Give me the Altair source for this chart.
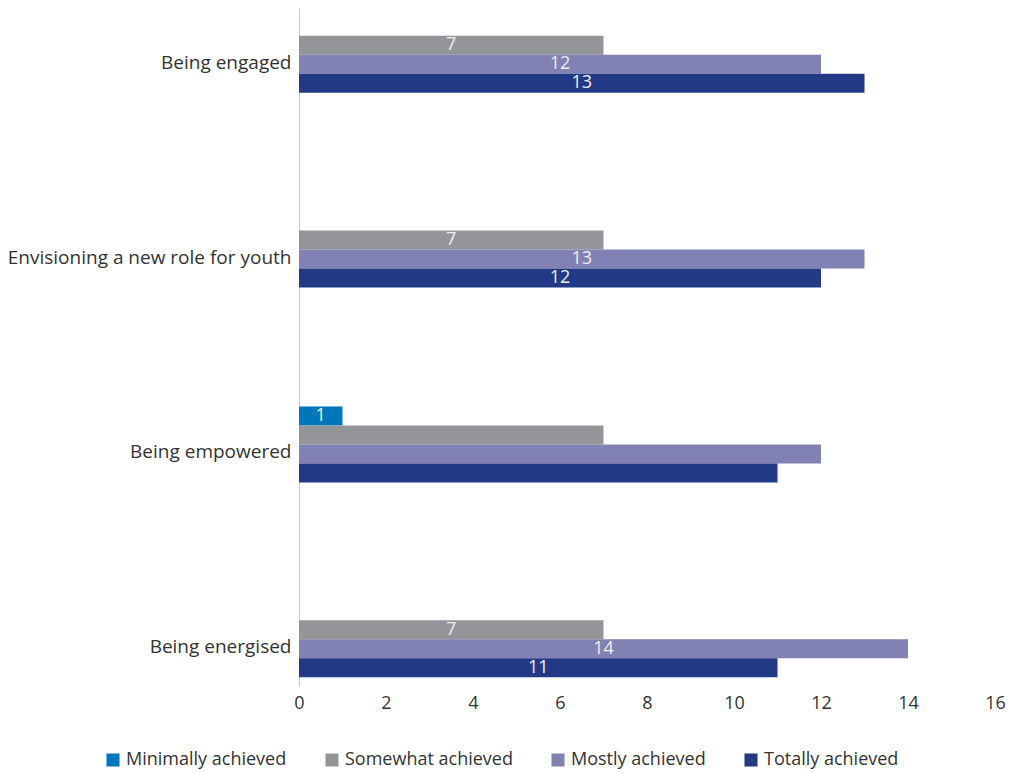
import altair as alt
import pandas as pd

categories = ["Being engaged", "Envisioning a new role for youth", "Being empowered", "Being energised"]
series = ["Minimally achieved", "Somewhat achieved", "Mostly achieved", "Totally achieved"]
colors = ["#0077bb", "#939598", "#8181b3", "#223a85"]

minimally = [0, 0, 1, 0]
somewhat = [7, 7, 7, 7]
mostly = [12, 13, 12, 14]
totally = [13, 12, 11, 11]

# labels shown on bars (None = no label in the original)
lab_minimally = [None, None, 1, None]
lab_somewhat = [7, 7, None, 7]
lab_mostly = [12, 13, None, 14]
lab_totally = [13, 12, None, 11]

rows = []
for s, vals, labs in zip(series,
                         [minimally, somewhat, mostly, totally],
                         [lab_minimally, lab_somewhat, lab_mostly, lab_totally]):
    for c, v, l in zip(categories, vals, labs):
        rows.append({"category": c, "series": s, "value": v,
                     "label": "" if l is None else str(l)})
df = pd.DataFrame(rows)

FONT = "Open Sans"

y = alt.Y("category:N", sort=categories, title=None,
          scale=alt.Scale(paddingInner=0.61, paddingOuter=0.045),
          axis=alt.Axis(domain=True, domainColor="#c8c8c8", ticks=False, grid=False,
                        labelFontSize=19, labelColor="#333333", labelFont=FONT,
                        labelPadding=8, labelOffset=8, labelLimit=400))
yoff = alt.YOffset("series:N", sort=series, scale=alt.Scale(domain=series, paddingInner=0, paddingOuter=0))

bars = alt.Chart(df).transform_filter("datum.value > 0").mark_bar().encode(
    x=alt.X("value:Q", title=None,
            scale=alt.Scale(domain=[0, 16]),
            axis=alt.Axis(values=list(range(0, 17, 2)), domain=False, ticks=False, grid=False,
                          labelFlush=False, labelOverlap=False,
                          labelFontSize=18, labelColor="#333333", labelFont=FONT, labelPadding=8)),
    y=y,
    yOffset=yoff,
    color=alt.Color("series:N", sort=series,
                    scale=alt.Scale(domain=series, range=colors),
                    legend=alt.Legend(title=None, orient="none", direction="horizontal",
                                      legendX=-195, legendY=743,
                                      symbolType="square", symbolSize=170, symbolStrokeWidth=0,
                                      labelFontSize=18, labelColor="#333333", labelFont=FONT,
                                      labelLimit=400, columnPadding=36, labelOffset=4)),
)

text = alt.Chart(df).transform_filter("datum.label != ''").transform_calculate(
    mid="datum.value / 2"
).mark_text(fontSize=18, color="#eeeeee", font=FONT, baseline="middle", align="center").encode(
    x=alt.X("mid:Q"),
    y=alt.Y("category:N", sort=categories),
    yOffset=yoff,
    text="label:N",
)

chart = (bars + text).properties(
    width=696, height=678,
    padding={"left": 291, "top": 0, "right": 13, "bottom": 96},
    autosize=alt.AutoSizeParams(type="none"),
).configure_view(stroke=None)

chart.save("out.html", embed_options={"renderer": "svg", "actions": False})
